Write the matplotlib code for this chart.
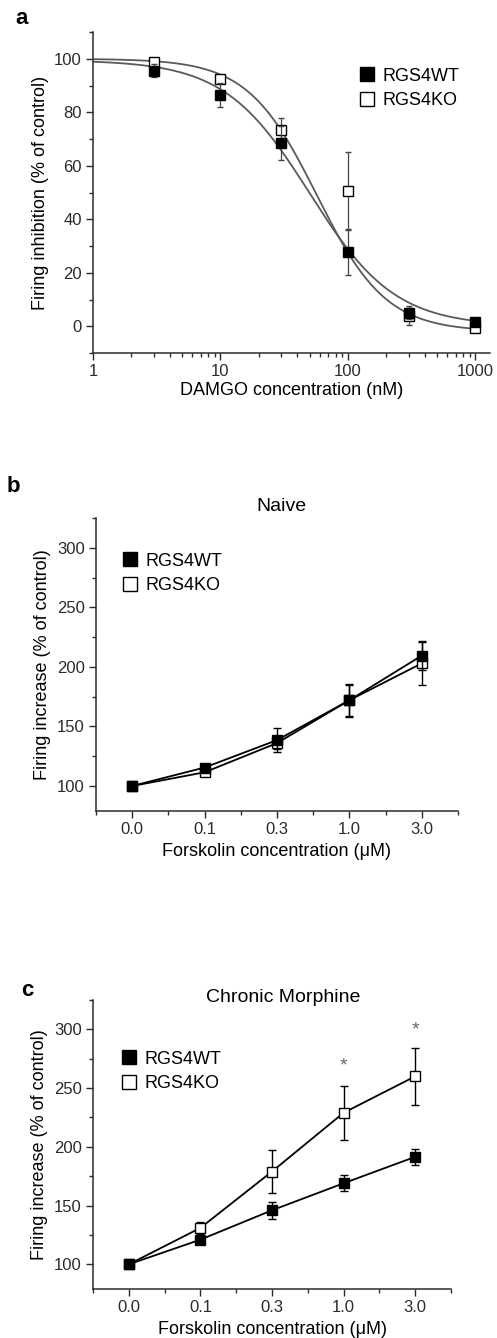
import numpy as np
import matplotlib
matplotlib.use("Agg")
import matplotlib.pyplot as plt
from matplotlib.lines import Line2D
from matplotlib.ticker import LogLocator, NullFormatter, FixedLocator, MultipleLocator, FuncFormatter

plt.rcParams['font.family'] = ['Liberation Sans', 'DejaVu Sans']

# panel a: DAMGO dose response
damgo_nM = [3, 10, 30, 100, 300, 1000]
wt_inhib = [95.5, 86.5, 68.5, 27.8, 4.8, 1.5]
wt_inhib_err = [2.5, 4.5, 6.5, 8.5, 2.0, 0.5]
ko_inhib = [98.8, 92.6, 73.5, 50.5, 3.9, -0.5]
ko_inhib_err = [1.5, 1.5, 4.5, 14.5, 3.5, 0.5]
# logistic fit: top, bottom, IC50 (nM), hill
wt_fit = [99.5, 0.0, 50.0, 1.3]
ko_fit = [100.0, -2.0, 57.0, 1.6]

# panels b, c: forskolin
forsk_labels = ['0.0', '0.1', '0.3', '1.0', '3.0']
naive_wt = [100, 115.5, 138.5, 172, 209.5]
naive_wt_err = [0, 3, 10, 14, 12.5]
naive_ko = [100, 111.5, 136, 172, 203]
naive_ko_err = [0, 3, 5, 13, 18]

morph_wt = [100, 121, 146, 169, 191.5]
morph_wt_err = [0, 3.5, 7, 7, 7]
morph_ko = [100, 131, 179, 229, 260]
morph_ko_err = [0, 5, 18.5, 23, 24.5]
star_idx = [3, 4]
star_y = [272, 303]

INK = '#2b2b2b'
W, H = 497, 1338
fig = plt.figure(figsize=(W / 100, H / 100), dpi=100)


def box(l, t, r, b):
    return [l / W, 1 - b / H, (r - l) / W, (b - t) / H]


def style(ax):
    for s in ['top', 'right']:
        ax.spines[s].set_visible(False)
    for s in ['left', 'bottom']:
        ax.spines[s].set_color(INK)
        ax.spines[s].set_linewidth(1.1)
    ax.tick_params(which='major', direction='out', length=5, width=1, color=INK,
                   labelcolor=INK, labelsize=12, pad=3)
    ax.tick_params(which='minor', direction='out', length=3, width=1, color=INK)


def legend(ax, x, y):
    h = [Line2D([], [], ls='none', marker='s', ms=9.5, mfc='black', mec='black', mew=1),
         Line2D([], [], ls='none', marker='s', ms=9.5, mfc='white', mec='black', mew=1)]
    ax.legend(h, ['RGS4WT', 'RGS4KO'], loc='upper left', bbox_to_anchor=(x, y),
              frameon=False, fontsize=13, handlelength=0.7, handletextpad=0.5,
              labelspacing=0.42, borderpad=0, borderaxespad=0)


def logistic(x, p):
    top, bottom, ic50, hill = p
    return bottom + (top - bottom) / (1 + (x / ic50) ** hill)


# ---- a
ax = fig.add_axes(box(93, 32, 490, 353))
style(ax)
xs = np.logspace(0, 3, 300)
ax.plot(xs, logistic(xs, wt_fit), color='#5a5a5a', lw=1.3, zorder=2)
ax.plot(xs, logistic(xs, ko_fit), color='#5a5a5a', lw=1.3, zorder=2)
ax.errorbar(damgo_nM, ko_inhib, yerr=ko_inhib_err, fmt='s', ms=6.5, mfc='white', mec='black',
            mew=1, ecolor='#444444', elinewidth=0.9, capsize=2.5, capthick=0.9, zorder=3)
ax.errorbar(damgo_nM, wt_inhib, yerr=wt_inhib_err, fmt='s', ms=6.5, mfc='black', mec='black',
            mew=1, ecolor='#444444', elinewidth=0.9, capsize=2.5, capthick=0.9, zorder=4)
ax.set_xscale('log')
ax.set_xlim(1, 1300)
ax.set_ylim(-10, 110)
ax.xaxis.set_major_locator(FixedLocator([1, 10, 100, 1000]))
ax.xaxis.set_major_formatter(FuncFormatter(lambda v, p: '%d' % v))
ax.xaxis.set_minor_locator(LogLocator(base=10, subs=np.arange(2, 10)))
ax.xaxis.set_minor_formatter(NullFormatter())
ax.yaxis.set_major_locator(FixedLocator([0, 20, 40, 60, 80, 100]))
ax.yaxis.set_minor_locator(MultipleLocator(10))
ax.set_xlabel('DAMGO concentration (nM)', fontsize=13, color='black', labelpad=2)
ax.set_ylabel('Firing inhibition (% of control)', fontsize=13, color='black', labelpad=4)
legend(ax, 0.674, 0.889)
fig.text(15 / W, 1 - 19 / H, 'a', fontsize=16, fontweight='bold', va='center')


# ---- b, c
def forsk_panel(rect, title, tpos, wt, wt_err, ko, ko_err, letter, lpos, legpos):
    ax = fig.add_axes(rect)
    style(ax)
    xi = np.arange(len(forsk_labels))
    ax.errorbar(xi, ko, yerr=ko_err, fmt='-s', color='black', lw=1.3, ms=7, mfc='white',
                mec='black', mew=1, elinewidth=1, capsize=3, capthick=1, zorder=3)
    ax.errorbar(xi, wt, yerr=wt_err, fmt='-s', color='black', lw=1.3, ms=7, mfc='black',
                mec='black', mew=1, elinewidth=1, capsize=3, capthick=1, zorder=4)
    ax.set_xlim(-0.5, 4.5)
    ax.set_ylim(79, 325)
    ax.set_xticks(xi)
    ax.set_xticklabels(forsk_labels)
    ax.xaxis.set_minor_locator(FixedLocator(np.arange(-0.5, 4.6, 1)))
    ax.yaxis.set_major_locator(FixedLocator([100, 150, 200, 250, 300]))
    ax.yaxis.set_minor_locator(FixedLocator(np.arange(125, 326, 50)))
    ax.set_xlabel('Forskolin concentration (\u03bcM)', fontsize=13, color='black', labelpad=4)
    ax.set_ylabel('Firing increase (% of control)', fontsize=13, color='black', labelpad=4)
    ax.text(tpos[0], tpos[1], title, transform=ax.transAxes, ha='center', va='center',
            fontsize=14, color='black')
    legend(ax, legpos[0], legpos[1])
    fig.text(lpos[0] / W, 1 - lpos[1] / H, letter, fontsize=16, fontweight='bold', va='center')
    return ax


forsk_panel(box(96, 518, 458, 811), 'Naive', (0.513, 1.038), naive_wt, naive_wt_err,
            naive_ko, naive_ko_err, 'b', (7, 487), (0.077, 0.882))
axc = forsk_panel(box(93, 1000, 451, 1289), 'Chronic Morphine', (0.53, 1.008), morph_wt,
                  morph_wt_err, morph_ko, morph_ko_err, 'c', (21, 990), (0.083, 0.825))
for i, y in zip(star_idx, star_y):
    axc.text(i, y - 3.5, '*', ha='center', va='center', fontsize=14, color='#666666')

fig.savefig('out.png', dpi=100)
